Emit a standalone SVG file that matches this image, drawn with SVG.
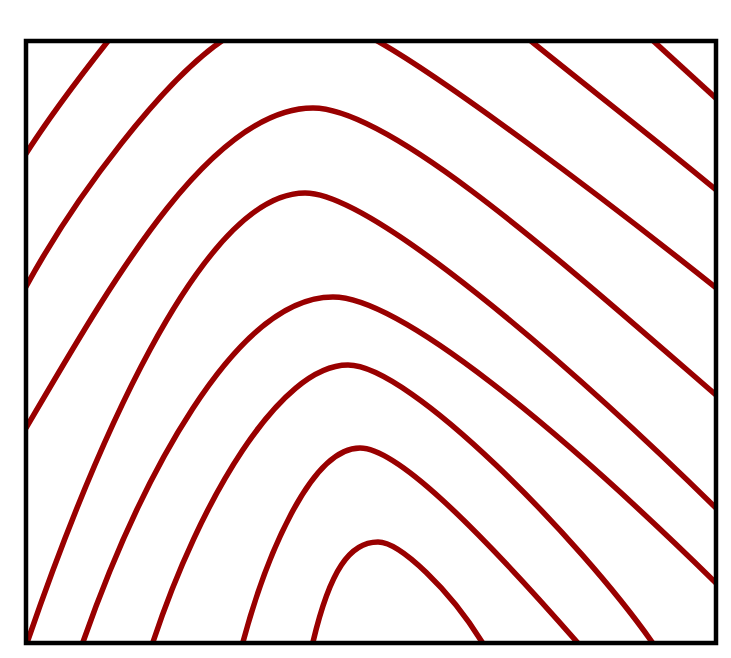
<svg xmlns="http://www.w3.org/2000/svg" width="731" height="658" viewBox="0 0 731 658">
<style>
.c{fill:none;stroke:#990000;stroke-width:5.5;stroke-linecap:butt}
.frame{fill:none;stroke:#000;stroke-width:4.5}
</style>
<rect width="731" height="658" fill="#fff"/>
<defs><clipPath id="box"><rect x="26" y="41" width="690" height="602"/></clipPath></defs>
<g id="curves" clip-path="url(#box)">
<path class="c" d="M112,36 C85,70 50,115 22,160"/>
<path class="c" d="M526,37 C585,85 650,135 720,193"/>
<path class="c" d="M649,37 L720,102"/>
<path class="c" d="M226,38 C165,78 75,195 22,294"/>
<path class="c" d="M372,38 C440,75 600,195 720,291"/>
<path class="c" d="M26,428 C110,285 210,108 313,108 C390,108 560,260 716,395 L720,398"/>
<path class="c" d="M27,645 L28,640 C90,460 200,193 305,193 C370,193 560,355 716,508 L720,512"/>
<path class="c" d="M82,647 L83,642 C140,480 235,297 333,297 C400,297 560,430 716,583 L720,587"/>
<path class="c" d="M151,647 L153,642 C200,500 280,365 348,365 C410,365 580,540 652,642 L655,647"/>
<path class="c" d="M242,647 L243,642 C265,560 310,448 360,448 C395,448 470,520 577,642 L581,647"/>
<path class="c" d="M312,647 L313,642 C330,570 350,542 378,542 C400,542 450,590 482,642 L485,647"/>
</g>
<rect class="frame" x="26" y="41" width="690" height="602"/>
</svg>
